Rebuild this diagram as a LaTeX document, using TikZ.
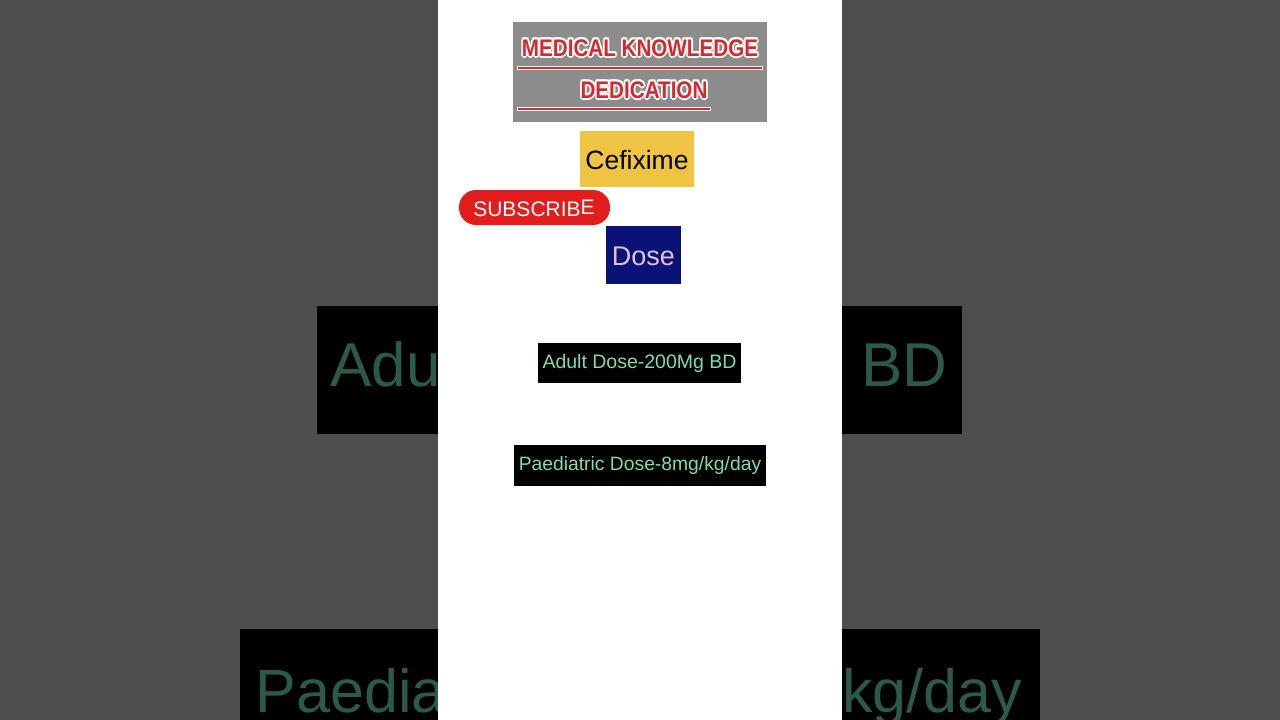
\documentclass[tikz,border=0pt]{standalone}
\usepackage{fontspec}
\setmainfont{Liberation Sans}
\usetikzlibrary{calc}
\definecolor{bggray}{HTML}{4E4E4E}
\definecolor{hgray}{HTML}{8C8C8C}
\definecolor{hred}{HTML}{D8282C}
\definecolor{cefy}{HTML}{EFC443}
\definecolor{subred}{HTML}{E21D1D}
\definecolor{navy}{HTML}{0B1275}
\definecolor{pinkt}{HTML}{E2C3DE}
\definecolor{teal}{HTML}{7FDDB0}
\definecolor{dteal}{HTML}{2C5A48}
\tikzset{
  px/.style={x=1pt,y=-1pt},
  hdr/.style={font=\fontsize{24}{24}\selectfont\bfseries, xscale=0.86, transform shape, inner sep=0},
}
\newcommand{\outlinetext}[3]{%
  \foreach \dx/\dy in {-1.8/0,1.8/0,0/-1.8,0/1.8,-1.3/-1.3,1.3/1.3,-1.3/1.3,1.3/-1.3}{
    \node[hdr,text=white] at ($(#1)+(\dx,\dy)$) {#3};}
  \node[hdr,text=hred] (#2) at (#1) {#3};
}
\begin{document}
\begin{tikzpicture}[px]
\useasboundingbox (0,0) rectangle (1280,720);
\fill[bggray] (0,0) rectangle (1280,720);
\fill[black] (317,306) rectangle (962,434);
\node[text=dteal,font=\fontsize{62}{62}\selectfont] (bga) at (639,370) {Adult Dose-200Mg BD};
\fill[black] (240,629) rectangle (1040,720);
\node[text=dteal,font=\fontsize{61}{61}\selectfont,anchor=base] (bgp) at (639,712) {Paediatric Dose-8mg/kg/day};
\fill[white] (438,0) rectangle (842,720);
\fill[hgray] (513,22) rectangle (767,122);
\coordinate (t1) at (640,48);
\coordinate (t2) at (644,90);
\outlinetext{t1}{h1}{MEDICAL KNOWLEDGE}
\outlinetext{t2}{h2}{DEDICATION}
\draw[white,line width=4.5] (517,68) -- (763,68);
\draw[hred,line width=2] (518,68) -- (762,68);
\draw[white,line width=4.5] (517,109) -- (711,109);
\draw[hred,line width=2] (518,109) -- (710,109);
\fill[cefy] (580,131) rectangle (694,187);
\node[font=\fontsize{26.5}{26.5}\selectfont] (cef) at (637,160) {Cefixime};
\fill[subred,rounded corners=17] (459,190) rectangle (610,225);
\node[text=white,font=\fontsize{21}{21}\selectfont] (sub) at (534,208) {SUBSCRIB\raisebox{2pt}{E}};
\fill[navy] (606,226) rectangle (681,284);
\node[text=pinkt,font=\fontsize{27}{27}\selectfont] (dose) at (643.5,256) {Dose};
\fill[black] (538,343) rectangle (741,383);
\node[text=teal,font=\fontsize{19.5}{19.5}\selectfont] (ad) at (639.5,363) {Adult Dose-200Mg BD};
\fill[black] (514,445) rectangle (766,486);
\node[text=teal,font=\fontsize{19.3}{19.3}\selectfont] (pd) at (640,466) {Paediatric Dose-8mg/kg/day};
\end{tikzpicture}
\end{document}
